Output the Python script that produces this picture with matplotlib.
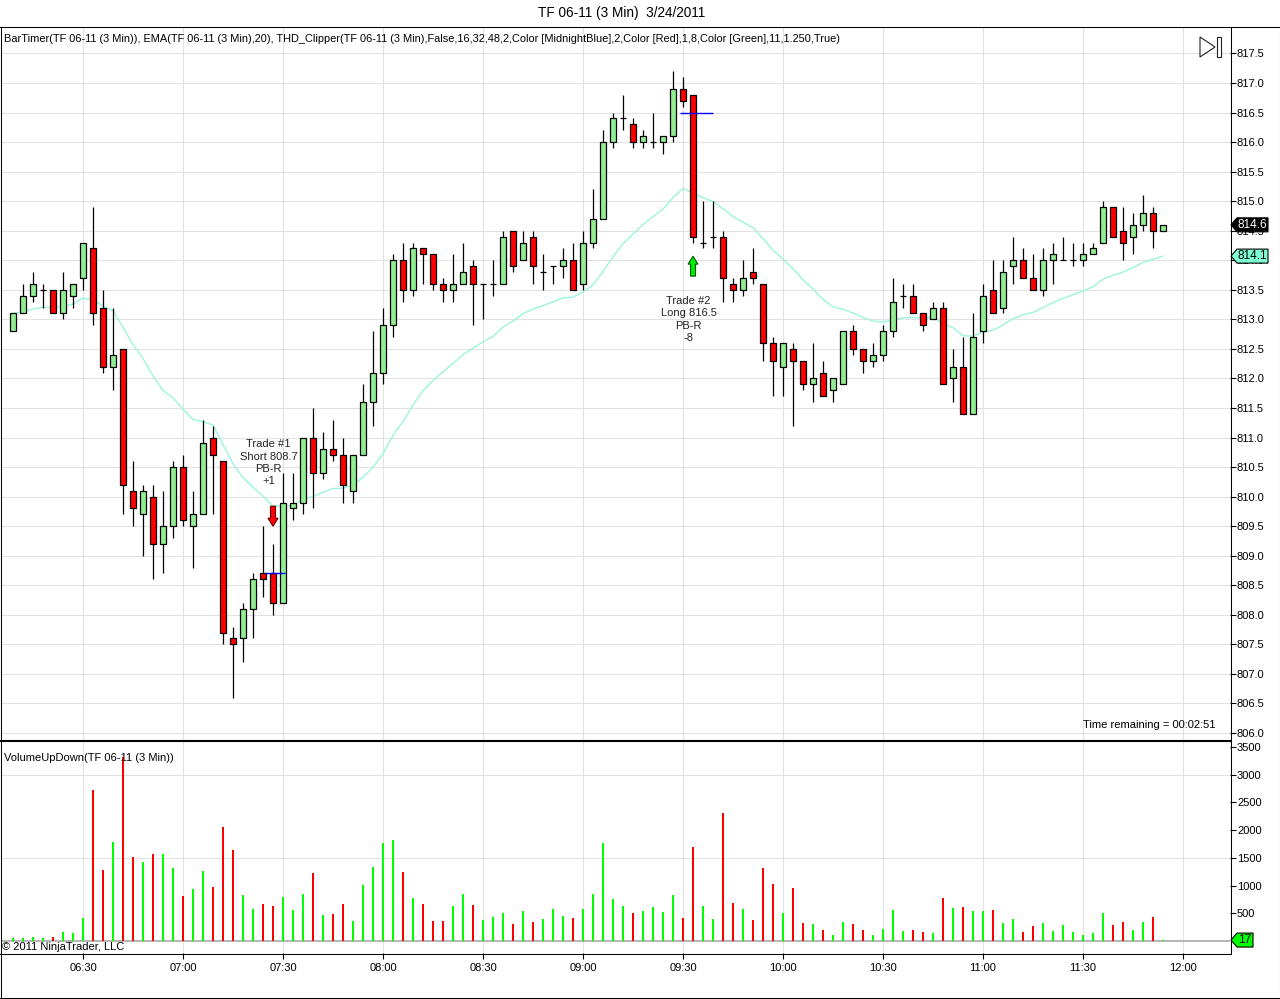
import matplotlib
matplotlib.use("Agg")
import matplotlib.pyplot as plt
from matplotlib.patches import Polygon, Rectangle
from matplotlib.lines import Line2D
from matplotlib.transforms import IdentityTransform
import numpy as np
import pandas as pd

plt.rcParams['font.family'] = ['Liberation Sans', 'DejaVu Sans']

# 3分钟K线 TF 06-11, 2011-03-24 06:09 - 11:54
opens = [812.8, 813.1, 813.4, 813.5, 813.5, 813.1, 813.4, 813.7, 814.2, 813.2,
         812.2, 812.5, 810.1, 809.7, 810.0, 809.2, 809.5, 810.5, 809.5, 809.7,
         811.0, 810.6, 807.6, 807.6, 808.1, 808.7, 808.7, 808.2, 809.8, 809.9,
         811.0, 810.4, 810.8, 810.7, 810.1, 810.7, 811.6, 812.1, 812.9, 814.0,
         813.5, 814.2, 814.1, 813.6, 813.5, 813.6, 813.9, 813.6, 813.6, 813.6,
         814.5, 814.0, 814.4, 813.8, 813.9, 813.9, 814.0, 813.6, 814.3, 814.7,
         816.0, 816.4, 816.3, 816.0, 816.0, 816.0, 816.1, 816.9, 816.8, 814.3,
         814.4, 814.4, 813.6, 813.5, 813.8, 813.6, 812.6, 812.2, 812.5, 812.3,
         811.9, 812.1, 811.8, 811.9, 812.8, 812.5, 812.3, 812.4, 812.8, 813.4,
         813.4, 813.1, 813.0, 813.2, 812.0, 812.2, 811.4, 812.8, 813.5, 813.2,
         813.9, 814.0, 813.7, 813.5, 814.0, 814.0, 814.0, 814.0, 814.1, 814.3,
         814.9, 814.5, 814.4, 814.6, 814.8, 814.5]
highs = [813.1, 813.6, 813.8, 813.6, 813.5, 813.8, 813.6, 814.3, 814.9, 813.5,
         813.2, 812.5, 810.6, 810.2, 810.2, 810.1, 810.6, 810.7, 810.1, 811.3,
         811.2, 810.6, 807.8, 808.2, 808.7, 809.5, 809.2, 810.4, 810.4, 811.0,
         811.5, 811.1, 811.3, 811.0, 810.7, 811.9, 812.8, 813.2, 814.1, 814.3,
         814.3, 814.2, 814.1, 813.7, 814.1, 814.3, 814.0, 813.6, 814.0, 814.5,
         814.5, 814.5, 814.5, 814.1, 813.9, 814.2, 814.3, 814.5, 815.2, 816.2,
         816.5, 816.8, 816.4, 816.2, 816.5, 816.1, 817.2, 817.1, 816.8, 815.0,
         815.0, 814.5, 813.7, 814.0, 814.2, 813.6, 812.7, 812.6, 812.6, 812.3,
         812.6, 812.3, 812.0, 812.8, 812.9, 812.5, 812.6, 812.9, 813.7, 813.6,
         813.6, 813.1, 813.3, 813.3, 812.5, 812.7, 813.1, 813.6, 814.0, 814.0,
         814.4, 814.2, 814.1, 814.2, 814.3, 814.4, 814.3, 814.3, 814.3, 815.0,
         814.9, 814.9, 814.8, 815.1, 814.9, 814.6]
lows = [812.8, 813.1, 813.3, 813.2, 813.1, 813.0, 813.2, 813.5, 812.9, 812.1,
        811.8, 809.7, 809.5, 809.0, 808.6, 808.7, 809.3, 809.5, 808.8, 809.7,
        809.7, 807.5, 806.6, 807.2, 807.6, 808.3, 808.0, 808.2, 809.6, 809.7,
        809.8, 810.3, 810.6, 809.9, 809.9, 810.7, 811.2, 811.9, 812.7, 813.3,
        813.4, 813.6, 813.5, 813.3, 813.3, 813.6, 812.9, 813.0, 813.4, 813.6,
        813.8, 814.0, 813.6, 813.5, 813.6, 813.7, 813.5, 813.5, 814.2, 814.7,
        815.9, 816.2, 815.9, 815.9, 815.9, 815.8, 816.0, 816.6, 814.3, 814.2,
        814.2, 813.3, 813.3, 813.4, 813.6, 812.3, 811.7, 811.7, 811.2, 811.8,
        811.6, 811.7, 811.6, 811.9, 812.4, 812.1, 812.2, 812.3, 812.7, 813.2,
        813.1, 812.8, 813.0, 811.9, 811.6, 811.4, 811.4, 812.6, 813.1, 813.1,
        813.6, 813.7, 813.5, 813.4, 813.6, 814.0, 813.9, 813.9, 814.1, 814.3,
        814.4, 814.0, 814.1, 814.5, 814.2, 814.5]
closes = [813.1, 813.4, 813.6, 813.5, 813.1, 813.5, 813.6, 814.3, 813.1, 812.2,
          812.4, 810.2, 809.8, 810.1, 809.2, 809.5, 810.5, 809.6, 809.7, 810.9,
          810.7, 807.7, 807.5, 808.1, 808.6, 808.6, 808.2, 809.9, 809.9, 811.0,
          810.4, 810.8, 810.7, 810.2, 810.7, 811.6, 812.1, 812.9, 814.0, 813.5,
          814.2, 814.1, 813.6, 813.5, 813.6, 813.8, 813.6, 813.6, 813.6, 814.4,
          813.9, 814.3, 813.9, 813.8, 813.9, 814.0, 813.5, 814.3, 814.7, 816.0,
          816.4, 816.4, 816.0, 816.1, 816.0, 816.1, 816.9, 816.7, 814.4, 814.3,
          814.4, 813.7, 813.5, 813.7, 813.7, 812.6, 812.3, 812.6, 812.3, 811.9,
          812.0, 811.7, 812.0, 812.8, 812.5, 812.3, 812.4, 812.8, 813.3, 813.4,
          813.1, 812.9, 813.2, 811.9, 812.2, 811.4, 812.7, 813.4, 813.1, 813.8,
          814.0, 813.7, 813.5, 814.0, 814.1, 814.0, 814.0, 814.1, 814.2, 814.9,
          814.4, 814.3, 814.6, 814.8, 814.5, 814.6]
volumes = [60, 60, 78, 60, 78, 168, 150, 420, 2724, 1284,
           1788, 3320, 1518, 1428, 1572, 1572, 1320, 816, 942, 1266,
           978, 2058, 1644, 834, 582, 672, 636, 798, 564, 852,
           1230, 474, 492, 672, 366, 1014, 1338, 1770, 1824, 1248,
           780, 672, 366, 366, 636, 852, 654, 384, 438, 510,
           312, 546, 348, 402, 582, 456, 420, 582, 852, 1770,
           762, 636, 510, 546, 618, 528, 834, 420, 1698, 636,
           402, 2310, 690, 582, 384, 1320, 1032, 510, 960, 330,
           312, 204, 114, 348, 312, 204, 114, 222, 564, 186,
           204, 168, 150, 780, 600, 618, 546, 546, 564, 330,
           402, 168, 276, 330, 186, 294, 168, 114, 150, 510,
           294, 348, 204, 348, 438, 17]

bar_times = pd.date_range("2011-03-24 06:09", periods=len(closes), freq="3min")
tick_labels = ["06:30", "07:00", "07:30", "08:00", "08:30", "09:00", "09:30",
               "10:00", "10:30", "11:00", "11:30", "12:00"]

# 交易标记: K线序号, 入场价, 方向, 文字
trade_bars = [26, 68]
trade_prices = [808.7, 816.5]
trade_dirs = ["short", "long"]
trade_texts = ["Trade #1\nShort 808.7\nPB-R\n+1", "Trade #2\nLong 816.5\nPB-R\n-8"]

title = "TF 06-11 (3 Min)  3/24/2011"
header = ("BarTimer(TF 06-11 (3 Min)), EMA(TF 06-11 (3 Min),20), THD_Clipper(TF 06-11 (3 Min),"
          "False,16,32,48,2,Color [MidnightBlue],2,Color [Red],1,8,Color [Green],11,1.250,True)")

W, H = 1280, 999
o = np.array(opens); h = np.array(highs); l = np.array(lows); c = np.array(closes)
v = np.array(volumes)
x = np.arange(len(c))
up = c >= o
ema = pd.Series(c).ewm(span=20, adjust=False).mean().values

tick_pos = [(pd.Timestamp("2011-03-24 " + t) - bar_times[0]) / pd.Timedelta("3min") for t in tick_labels]

fig = plt.figure(figsize=(W / 100, H / 100), dpi=100)
ax_p = fig.add_axes([2 / W, 1 - 740 / H, 1228 / W, 713 / H])
ax_v = fig.add_axes([2 / W, 1 - 953 / H, 1228 / W, 212 / H])
grid_c = "#e2e2e2"

# ---- 价格图 ----
ax_p.set_xlim(-1.1, 121.7)
ax_p.set_ylim(805.882, 817.948)
for yy in np.arange(806.0, 818.0, 0.5):
    ax_p.axhline(yy, color=grid_c, lw=0.8, zorder=0)
for tp in tick_pos:
    ax_p.axvline(tp, color=grid_c, lw=0.8, zorder=0)

ax_p.plot(x, ema, color="#9af5dc", lw=1.0, zorder=1)
ax_p.vlines(x, l, h, color="black", lw=0.9, zorder=2)
body = ~np.isclose(o, c)
ax_p.bar(x[body], np.abs(c - o)[body], bottom=np.minimum(o, c)[body], width=0.68,
         color=np.where(up, "#90ee90", "#ff0000")[body], edgecolor="black", lw=0.9, zorder=3)
ax_p.hlines(c[~body], x[~body] - 0.34, x[~body] + 0.34, color="black", lw=0.9, zorder=3)

ax_p.set_yticks(np.arange(806.0, 818.0, 0.5))
ax_p.yaxis.set_major_formatter(matplotlib.ticker.FormatStrFormatter("%.1f"))
ax_p.yaxis.tick_right()
ax_p.tick_params(axis="y", direction="out", length=4, width=0.8, pad=1, labelsize=8)
ax_p.set_xticks([])
for s in ["left", "top", "bottom", "right"]:
    ax_p.spines[s].set_visible(False)

ax_p.text(0.0016, 0.983, header, transform=ax_p.transAxes, fontsize=7.95, ha="left", va="center")
ax_p.text(0.988, 0.021, "Time remaining = 00:02:51", transform=ax_p.transAxes,
          fontsize=8, ha="right", va="center")

# 交易入场线
for tb, tpz, td in zip(trade_bars, trade_prices, trade_dirs):
    if td == "short":
        ax_p.hlines(tpz, tb - 0.8, tb + 1.2, color="#0000ff", lw=1.0, zorder=4)
    else:
        ax_p.hlines(tpz, tb - 1.3, tb + 2.0, color="#0000ff", lw=1.0, zorder=4)

# ---- 成交量图 ----
ax_v.set_xlim(-1.1, 121.7)
ax_v.set_ylim(-216.6, 3610)
for yy in [1500, 3000]:
    ax_v.axhline(yy, color=grid_c, lw=0.8, zorder=0)
for tp in tick_pos:
    ax_v.axvline(tp, color=grid_c, lw=0.8, zorder=0)
ax_v.axhline(0, color="#a8a8a8", lw=1.2, zorder=1)
ax_v.bar(x, v, width=0.2, color=np.where(up, "#00ff00", "#ff0000"), zorder=2)
ax_v.set_yticks(np.arange(500, 4000, 500))
ax_v.yaxis.tick_right()
ax_v.tick_params(axis="y", direction="out", length=4, width=0.8, pad=1, labelsize=8)
ax_v.set_xticks(tick_pos)
ax_v.set_xticklabels(tick_labels)
ax_v.tick_params(axis="x", direction="out", length=4, width=0.8, pad=3, labelsize=8)
for s in ["left", "top", "bottom", "right"]:
    ax_v.spines[s].set_visible(False)
ax_v.text(0.0016, 0.92, "VolumeUpDown(TF 06-11 (3 Min))", transform=ax_v.transAxes,
          fontsize=8, ha="left", va="center")
ax_v.text(0.0, 0.028, "\u00a9 2011 NinjaTrader, LLC", transform=ax_v.transAxes,
          fontsize=8, ha="left", va="center")

fig.text(622 / W, 1 - 13 / H, title, fontsize=9.8, ha="center", va="center")

# ---- 像素坐标辅助 ----
ID = IdentityTransform()


def line_px(x0, y0, x1, y1, lw=0.75, color="black"):
    fig.add_artist(Line2D([x0, x1], [H - y0, H - y1], transform=ID, color=color, lw=lw))


line_px(0.5, 27, 0.5, 997.5)
line_px(1279.5, 27, 1279.5, 997.5)
line_px(0, 27, 1280, 27)
line_px(0, 997.5, 1280, 997.5)
line_px(0, 740.5, 1230, 740.5, lw=1.5)
line_px(0, 953.5, 1230, 953.5)
line_px(1230.5, 27, 1230.5, 953.5)

# 右上角 ▷| 图标
fig.add_artist(Polygon([(1200, H - 37), (1200, H - 57), (1215, H - 47)], closed=True,
                       transform=ID, facecolor="white", edgecolor="#222222", lw=0.8))
fig.add_artist(Rectangle((1217, H - 57), 4, 20, transform=ID, facecolor="white",
                         edgecolor="#222222", lw=0.8))


def tag(ax, yval, text, face, tcolor, width):
    xd, yd = ax.transData.transform((0, yval))
    x0 = 1231
    pts = [(x0, yd), (x0 + 6, yd + 7), (x0 + width, yd + 7), (x0 + width, yd - 7), (x0 + 6, yd - 7)]
    fig.add_artist(Polygon(pts, closed=True, transform=ID, facecolor=face,
                           edgecolor="black", lw=0.8, zorder=10))
    fig.text(x0 + 3 + width / 2, yd, text, transform=ID, fontsize=8.5, color=tcolor,
             ha="center", va="center", zorder=11)


tag(ax_p, c[-1], "%.1f" % c[-1], "black", "white", 37)
tag(ax_p, ema[-1], "%.1f" % ema[-1], "#7fffd4", "black", 37)
tag(ax_v, v[-1], str(v[-1]), "#00ff00", "black", 22)

# 交易箭头和文字
for tb, td, tt in zip(trade_bars, trade_dirs, trade_texts):
    if td == "short":
        xd, yd = ax_p.transData.transform((tb, h[tb] + 0.3))
        s = 1
    else:
        xd, yd = ax_p.transData.transform((tb, l[tb] - 0.23))
        s = -1
    pts = [(xd, yd), (xd - 5, yd + s * 8), (xd - 2.5, yd + s * 8), (xd - 2.5, yd + s * 20),
           (xd + 2.5, yd + s * 20), (xd + 2.5, yd + s * 8), (xd + 5, yd + s * 8)]
    fc = "#ff0000" if td == "short" else "#00ee00"
    ec = "#660000" if td == "short" else "#005500"
    fig.add_artist(Polygon(pts, closed=True, transform=ID, facecolor=fc, edgecolor=ec, lw=0.8))
    fig.text(xd - 4.5, yd + s * 40, tt, transform=ID, fontsize=8, color="#222222",
             ha="center", va="bottom" if s == 1 else "top", linespacing=1.28)

fig.savefig("out.png", dpi=100, facecolor="white")
